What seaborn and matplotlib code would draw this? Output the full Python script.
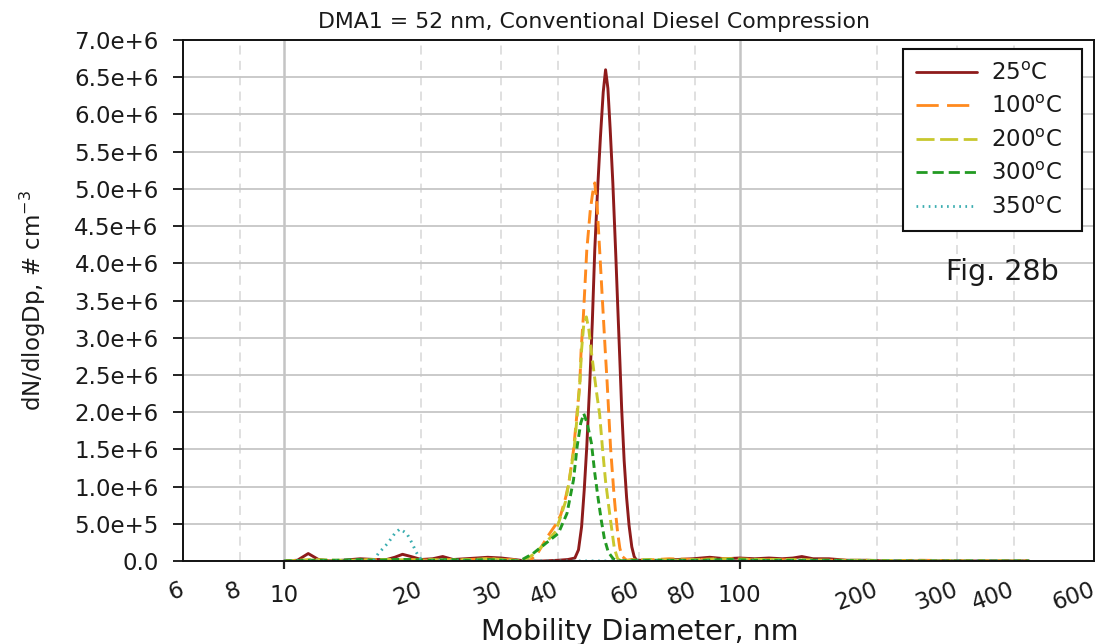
import matplotlib
matplotlib.use("Agg")
import matplotlib.pyplot as plt
import numpy as np
import pandas as pd
import seaborn as sns
from matplotlib.lines import Line2D
from matplotlib.ticker import FixedLocator, FixedFormatter
from matplotlib.transforms import ScaledTranslation

# ---------------- data (values in units of 1e6 #/cm3) ----------------
series_labels = ["25$^{\\rm o}$C", "100$^{\\rm o}$C", "200$^{\\rm o}$C",
                 "300$^{\\rm o}$C", "350$^{\\rm o}$C"]

d_25 = [10.0, 10.7, 11.3, 11.9, 12.6, 13.5, 14.7, 15.8, 16.8, 17.5, 18.2, 19.0, 20.0,
        21.2, 22.3, 23.5, 25.0, 26.5, 28.0, 30.0, 32.0, 34.0, 37.0, 40.0, 42.0, 43.5,
        44.3, 45.0, 45.6, 46.2, 46.9, 47.5, 48.1, 48.8, 49.5, 50.2, 50.8, 51.4, 52.0,
        52.7, 53.5, 54.0, 54.6, 55.1, 55.8, 56.5, 57.2, 58.0, 58.7, 59.4, 61.0, 64.0,
        68.0, 73.0, 79.0, 86.0, 93.0, 100.0, 108.0, 116.0, 124.0, 131.0, 137.0, 145.0,
        157.0, 172.0, 190.0, 210.0, 250.0, 300.0, 360.0, 432.0]
v_25 = [0.00, 0.01, 0.10, 0.02, 0.00, 0.01, 0.03, 0.02, 0.02, 0.05, 0.09, 0.06, 0.02,
        0.03, 0.06, 0.02, 0.03, 0.04, 0.05, 0.04, 0.02, 0.00, 0.00, 0.01, 0.02, 0.04,
        0.15, 0.46, 0.95, 1.54, 2.39, 3.20, 4.18, 5.00, 5.70, 6.30, 6.60, 6.35, 5.80,
        5.08, 4.10, 3.45, 2.70, 2.05, 1.35, 0.85, 0.48, 0.19, 0.06, 0.01, 0.01, 0.00,
        0.01, 0.02, 0.03, 0.05, 0.03, 0.04, 0.03, 0.04, 0.03, 0.04, 0.06, 0.03,
        0.03, 0.01, 0.01, 0.00, 0.00, 0.00, 0.00, 0.00]

d_100 = [10.0, 11.5, 13.0, 14.5, 16.0, 17.5, 19.0, 21.0, 23.0, 25.5, 28.0, 30.5, 33.0,
         34.6, 36.0, 37.9, 39.6, 40.5, 41.5, 42.2, 43.2, 43.9, 44.6, 44.9, 45.4, 46.2,
         47.0, 47.6, 48.1, 48.7, 49.3, 50.0, 50.7, 51.2, 52.1, 53.0, 53.5, 54.0, 54.6,
         55.3, 56.5, 58.0, 62.0, 70.0, 80.0, 92.0, 105.0, 120.0, 140.0, 165.0, 200.0,
         250.0, 320.0, 432.0]
v_100 = [0.00, 0.01, 0.00, 0.01, 0.02, 0.01, 0.02, 0.01, 0.02, 0.02, 0.03, 0.02, 0.01,
         0.00, 0.10, 0.33, 0.50, 0.62, 0.85, 1.05, 1.49, 1.94, 2.39, 2.84, 3.28, 4.18,
         4.70, 4.95, 5.08, 4.75, 4.18, 3.50, 2.84, 2.40, 1.52, 0.90, 0.62, 0.38, 0.17,
         0.06, 0.01, 0.02, 0.01, 0.03, 0.02, 0.03, 0.02, 0.02, 0.01, 0.01, 0.00,
         0.01, 0.00, 0.00]

d_200 = [10.0, 11.5, 13.0, 14.5, 16.0, 17.5, 19.0, 21.0, 23.0, 25.5, 28.0, 30.5, 33.5,
         35.5, 37.6, 39.5, 40.5, 41.5, 42.2, 43.3, 44.0, 44.6, 45.0, 45.5, 46.1, 46.7,
         47.3, 48.1, 48.7, 49.3, 50.0, 50.8, 51.9, 53.1, 54.0, 55.0, 58.0, 64.0, 72.0,
         82.0, 95.0, 110.0, 130.0, 155.0, 190.0, 240.0, 310.0, 432.0]
v_200 = [0.00, 0.02, 0.01, 0.01, 0.02, 0.02, 0.01, 0.02, 0.01, 0.02, 0.03, 0.02, 0.00,
         0.10, 0.25, 0.40, 0.60, 0.80, 1.05, 1.49, 1.94, 2.39, 2.84, 3.18, 3.28, 3.10,
         2.80, 2.45, 2.20, 1.97, 1.52, 1.07, 0.62, 0.17, 0.03, 0.00, 0.01, 0.02, 0.01,
         0.02, 0.03, 0.02, 0.02, 0.01, 0.01, 0.00, 0.00, 0.00]

d_300 = [10.0, 11.5, 13.0, 14.5, 16.0, 17.5, 19.0, 21.0, 23.0, 25.5, 28.0, 30.5, 32.9,
         35.2, 37.6, 40.0, 41.8, 43.2, 44.0, 44.8, 45.5, 46.3, 47.3, 48.1, 48.9, 49.7,
         50.5, 51.5, 52.8, 54.0, 58.0, 64.0, 72.0, 82.0, 95.0, 110.0, 130.0, 155.0,
         190.0, 240.0, 310.0, 432.0]
v_300 = [0.00, 0.01, 0.01, 0.02, 0.01, 0.02, 0.02, 0.01, 0.02, 0.01, 0.02, 0.01, 0.00,
         0.10, 0.24, 0.37, 0.64, 1.09, 1.54, 1.85, 1.98, 1.85, 1.58, 1.18, 0.85, 0.55,
         0.30, 0.12, 0.03, 0.00, 0.01, 0.01, 0.01, 0.01, 0.02, 0.01, 0.01, 0.01,
         0.00, 0.00, 0.00, 0.00]

d_350 = [10.0, 13.0, 15.7, 16.1, 16.9, 17.5, 17.96, 18.6, 19.1, 19.5, 19.8, 20.2,
         30.0, 50.0, 100.0, 200.0, 432.0]
v_350 = [0.00, 0.00, 0.00, 0.10, 0.24, 0.37, 0.43, 0.37, 0.24, 0.12, 0.05, 0.00,
         0.00, 0.00, 0.00, 0.00, 0.00]

x_ticks_major = [10, 100]
x_ticks_minor = [6, 8, 20, 30, 40, 60, 80, 200, 300, 400, 600]
x_grid_minor = [8, 20, 30, 40, 60, 80, 200, 300, 400]
y_ticks = [0.0, 0.5e6, 1.0e6, 1.5e6, 2.0e6, 2.5e6, 3.0e6, 3.5e6, 4.0e6, 4.5e6,
           5.0e6, 5.5e6, 6.0e6, 6.5e6, 7.0e6]
y_tick_labels = ["0.0", "5.0e+5", "1.0e+6", "1.5e+6", "2.0e+6", "2.5e+6", "3.0e+6",
                 "3.5e+6", "4.0e+6", "4.5e+6", "5.0e+6", "5.5e+6", "6.0e+6",
                 "6.5e+6", "7.0e+6"]

# ---------------- styles ----------------
colors = {series_labels[0]: "#8E1B1B", series_labels[1]: "#FF8A1E",
          series_labels[2]: "#C8C82E", series_labels[3]: "#229A22",
          series_labels[4]: "#3AADB0"}
plot_dashes = {series_labels[0]: "", series_labels[1]: (4.6, 2.2),
               series_labels[2]: (3.7, 1.8), series_labels[3]: (2.6, 1.5),
               series_labels[4]: (0.6, 1.6)}
legend_dashes = {series_labels[0]: None, series_labels[1]: (8.0, 3.0),
                 series_labels[2]: (6.5, 2.0), series_labels[3]: (4.0, 1.8),
                 series_labels[4]: (0.6, 1.6)}

sns.set_style("white")
plt.rcParams["font.family"] = ["DejaVu Sans"]
plt.rcParams["mathtext.fontset"] = "dejavusans"
TXT = "#1a1a1a"
TICKFS = 16.5

rows = []
for name, d, v in zip(series_labels, [d_25, d_100, d_200, d_300, d_350],
                      [v_25, v_100, v_200, v_300, v_350]):
    for di, vi in zip(d, v):
        rows.append((name, di, vi * 1e6))
df = pd.DataFrame(rows, columns=["series", "d", "val"])

W, H = 1101, 644
fig = plt.figure(figsize=(W / 100, H / 100), dpi=100)
ax = fig.add_axes([183 / W, 1 - 561 / H, (1094 - 183) / W, (561 - 40) / H])
ax.set_xscale("log")

sns.lineplot(data=df, x="d", y="val", hue="series", style="series",
             hue_order=series_labels, style_order=series_labels,
             palette=colors, dashes=plot_dashes, estimator=None, sort=False,
             linewidth=2.1, legend=False, ax=ax)

ax.set_xlim(6, 600)
ax.set_ylim(0, 7.0e6)
ax.set_xlabel("")
ax.set_ylabel("")

# grid
ax.set_axisbelow(True)
ax.yaxis.set_major_locator(FixedLocator(y_ticks))
ax.yaxis.set_major_formatter(FixedFormatter(y_tick_labels))
ax.grid(False)
ax.yaxis.grid(True, color="#C6C6C6", linewidth=1.3)
for xv in x_ticks_major:
    ax.axvline(xv, color="#C4C4C4", linewidth=1.8, zorder=0)
for xv in x_grid_minor:
    ax.axvline(xv, color="#DDDDDD", linewidth=1.3, dashes=(5, 3.5), zorder=0)

# x ticks
ax.xaxis.set_major_locator(FixedLocator(x_ticks_major))
ax.xaxis.set_major_formatter(FixedFormatter([str(v) for v in x_ticks_major]))
ax.xaxis.set_minor_locator(FixedLocator(x_ticks_minor))
ax.xaxis.set_minor_formatter(FixedFormatter([str(v) for v in x_ticks_minor]))
ax.tick_params(axis="x", which="major", direction="out", length=6, width=1.6,
               color="#222222", labelsize=TICKFS, pad=10.5, labelcolor=TXT,
               bottom=True)
ax.tick_params(axis="x", which="minor", length=0, labelsize=TICKFS, pad=12.5,
               labelcolor=TXT, bottom=True, labelrotation=20)
ax.tick_params(axis="y", which="major", direction="out", length=7, width=1.4,
               color="#222222", labelsize=TICKFS, pad=10.5, labelcolor=TXT,
               left=True)

for sp in ax.spines.values():
    sp.set_visible(True)
    sp.set_color("#111111")
    sp.set_linewidth(1.4)

fig.canvas.draw()
shift = ScaledTranslation(4 / 100, 0, fig.dpi_scale_trans)
for tk in ax.xaxis.get_minor_ticks():
    tk.label1.set_ha("right")
    tk.label1.set_transform(tk.label1.get_transform() + shift)

# texts
fig.text(594 / W, 1 - 28 / H, "DMA1 = 52 nm, Conventional Diesel Compression",
         ha="center", va="baseline", fontsize=15.8, color=TXT)
fig.text(640 / W, 1 - 640 / H, "Mobility Diameter, nm", ha="center",
         va="baseline", fontsize=20.5, color=TXT)
fig.text(33 / W, 1 - 300 / H, "dN/dlogDp, # cm$^{-3}$", rotation=90,
         ha="center", va="center", fontsize=16.5, color=TXT)
fig.text(1002 / W, 1 - 280 / H, "Fig. 28b", ha="center", va="baseline",
         fontsize=20.5, color=TXT)

# legend
handles = []
for name in series_labels:
    if legend_dashes[name] is None:
        h = Line2D([], [], color=colors[name], linewidth=2.0, linestyle="-")
    else:
        h = Line2D([], [], color=colors[name], linewidth=2.0,
                   dashes=legend_dashes[name])
    handles.append(h)
leg = ax.legend(handles, series_labels, loc="upper left",
                bbox_to_anchor=(903 / W, 1 - 49 / H, 179 / W, 0),
                bbox_transform=fig.transFigure, mode="expand", borderaxespad=0,
                fontsize=16.5, handlelength=2.7, handletextpad=0.57,
                labelspacing=0.46, borderpad=0.55, frameon=True, fancybox=False,
                framealpha=1, edgecolor="#111111")
leg.get_frame().set_linewidth(1.5)
for t in leg.get_texts():
    t.set_color(TXT)

fig.savefig("out.png", dpi=100)
